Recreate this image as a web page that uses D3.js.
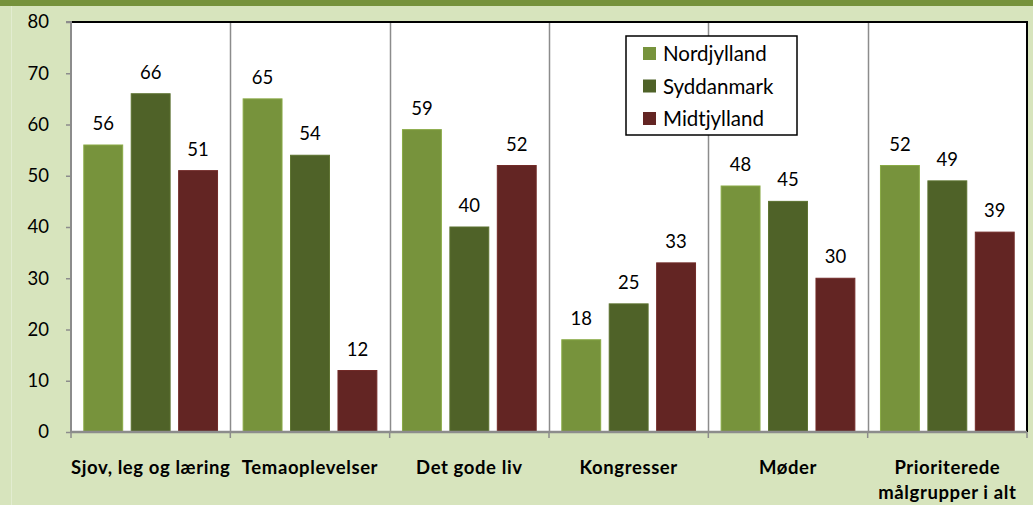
<!DOCTYPE html>
<html lang="da">
<head>
  <script src="https://d3js.org/d3.v7.min.js"></script>
  <style>
    body { margin: 0; background: #d7e4bd; }
    svg { display: block; }
  </style>
</head>
<body>
<div id="chart"></div>
<script>
  // data
  var categories = ["Sjov, leg og læring", "Temaoplevelser", "Det gode liv", "Kongresser", "Møder", "Prioriterede målgrupper i alt"];
  var series = ["Nordjylland", "Syddanmark", "Midtjylland"];
  var nordjylland = [56, 65, 59, 18, 48, 52];
  var syddanmark = [66, 54, 40, 25, 45, 49];
  var midtjylland = [51, 12, 52, 33, 30, 39];
  var yTicks = [0, 10, 20, 30, 40, 50, 60, 70, 80];
  var colors = ["#77933c", "#4f6228", "#632523"];

  var values = [nordjylland, syddanmark, midtjylland];

  var W = 1033, H = 505;
  var margin = {top: 22, right: 6, bottom: 73, left: 71};
  var width = W - margin.left - margin.right,
      height = H - margin.top - margin.bottom;

  var root = d3.select("#chart").append("svg")
      .attr("width", W)
      .attr("height", H);

  // background + top band
  root.append("rect").attr("width", W).attr("height", H).attr("fill", "#d7e4bd");
  root.append("rect").attr("width", W).attr("height", 6).attr("fill", "#76923c");
  root.append("line")
      .attr("x1", 11.5).attr("x2", 11.5).attr("y1", 6).attr("y2", H)
      .attr("stroke", "#e2ecd0").attr("stroke-width", 1);

  var svg = root.append("g")
      .attr("transform", "translate(" + margin.left + "," + margin.top + ")");

  var x0 = d3.scaleBand().domain(categories).range([0, width]).paddingInner(0).paddingOuter(0);
  var x1 = d3.scaleBand().domain(series).range([0, x0.bandwidth()]).paddingInner(0.18).paddingOuter(0.27);
  var y = d3.scaleLinear().domain([0, 80]).range([height, 0]);

  // plot area
  svg.append("rect")
      .attr("width", width).attr("height", height)
      .attr("fill", "#fff");

  // separators between categories
  svg.selectAll("line.sep")
      .data(categories.slice(1)).enter()
      .append("line")
      .attr("class", "sep")
      .attr("x1", function(d) { return Math.round(x0(d)) + 0.5; })
      .attr("x2", function(d) { return Math.round(x0(d)) + 0.5; })
      .attr("y1", 0).attr("y2", height)
      .attr("stroke", "#8c8c8c").attr("stroke-width", 1.5);

  // top and right border
  svg.append("path")
      .attr("d", "M0,0H" + width + "V" + height)
      .attr("fill", "none").attr("stroke", "#000").attr("stroke-width", 2);

  // bars
  var groups = svg.selectAll("g.grp")
      .data(categories).enter()
      .append("g")
      .attr("class", "grp")
      .attr("transform", function(d) { return "translate(" + x0(d) + ",0)"; });

  groups.selectAll("rect")
      .data(function(d, i) { return series.map(function(s, j) { return {s: s, v: values[j][i], j: j}; }); })
      .enter().append("rect")
      .attr("x", function(d) { return x1(d.s); })
      .attr("y", function(d) { return y(d.v); })
      .attr("width", x1.bandwidth())
      .attr("height", function(d) { return height - y(d.v); })
      .attr("fill", function(d) { return colors[d.j]; })
      .attr("stroke", function(d) { return d3.color(colors[d.j]).brighter(0.4); })
      .attr("stroke-width", 1);

  groups.selectAll("text")
      .data(function(d, i) { return series.map(function(s, j) { return {s: s, v: values[j][i], j: j}; }); })
      .enter().append("text")
      .attr("x", function(d) { return x1(d.s) + x1.bandwidth() / 2; })
      .attr("y", function(d) { return y(d.v) - 15; })
      .attr("text-anchor", "middle")
      .style("font", "18.5px Lato, 'Open Sans', sans-serif")
      .attr("fill", "#000")
      .text(function(d) { return d.v; });

  // y axis
  var yAxis = d3.axisLeft(y).tickValues(yTicks).tickSize(5).tickPadding(17);
  var gY = svg.append("g").call(yAxis);
  gY.select(".domain").attr("stroke", "#8c8c8c").attr("stroke-width", 2).attr("d", "M-5,0H0V" + height);
  gY.selectAll(".tick line").attr("stroke", "#8c8c8c").attr("stroke-width", 1.5);
  gY.selectAll(".tick text")
      .style("font", "18.5px Lato, 'Open Sans', sans-serif")
      .attr("fill", "#000");

  // x axis
  var gX = svg.append("g").attr("transform", "translate(0," + height + ")");
  gX.append("line")
      .attr("x1", 0).attr("x2", width)
      .attr("stroke", "#8c8c8c").attr("stroke-width", 2.5);
  gX.selectAll("line.tk")
      .data(categories.concat(["end"])).enter()
      .append("line")
      .attr("class", "tk")
      .attr("x1", function(d, i) { return i * x0.bandwidth(); })
      .attr("x2", function(d, i) { return i * x0.bandwidth(); })
      .attr("y1", 0).attr("y2", 6)
      .attr("stroke", "#8c8c8c").attr("stroke-width", 1.5);

  var labelLines = {"Prioriterede målgrupper i alt": ["Prioriterede", "målgrupper i alt"]};
  gX.selectAll("text.cat")
      .data(categories).enter()
      .append("text")
      .attr("class", "cat")
      .attr("x", function(d) { return x0(d) + x0.bandwidth() / 2; })
      .attr("y", 42)
      .attr("text-anchor", "middle")
      .style("font", "bold 18.5px Lato, 'Open Sans', sans-serif")
      .style("letter-spacing", "0.6px")
      .attr("fill", "#000")
      .each(function(d) {
        var lines = labelLines[d] || [d];
        var t = d3.select(this);
        lines.forEach(function(l, i) {
          t.append("tspan").attr("x", x0(d) + x0.bandwidth() / 2).attr("dy", i ? 25 : 0).text(l);
        });
      });

  // legend
  var lg = svg.append("g").attr("transform", "translate(" + (626 - margin.left) + "," + (36 - margin.top) + ")");
  lg.append("rect")
      .attr("width", 171).attr("height", 99)
      .attr("fill", "#fff").attr("stroke", "#000").attr("stroke-width", 1.5);
  var li = lg.selectAll("g.li")
      .data(series).enter()
      .append("g")
      .attr("class", "li")
      .attr("transform", function(d, i) { return "translate(17," + (17 + i * 32.5) + ")"; });
  li.append("rect")
      .attr("width", 13).attr("height", 13)
      .attr("y", -6)
      .attr("fill", function(d, i) { return colors[i]; });
  li.append("text")
      .attr("x", 20)
      .attr("y", 8)
      .style("font", "20.5px Lato, 'Open Sans', sans-serif")
      .attr("fill", "#000")
      .text(function(d) { return d; });
</script>
</body>
</html>
